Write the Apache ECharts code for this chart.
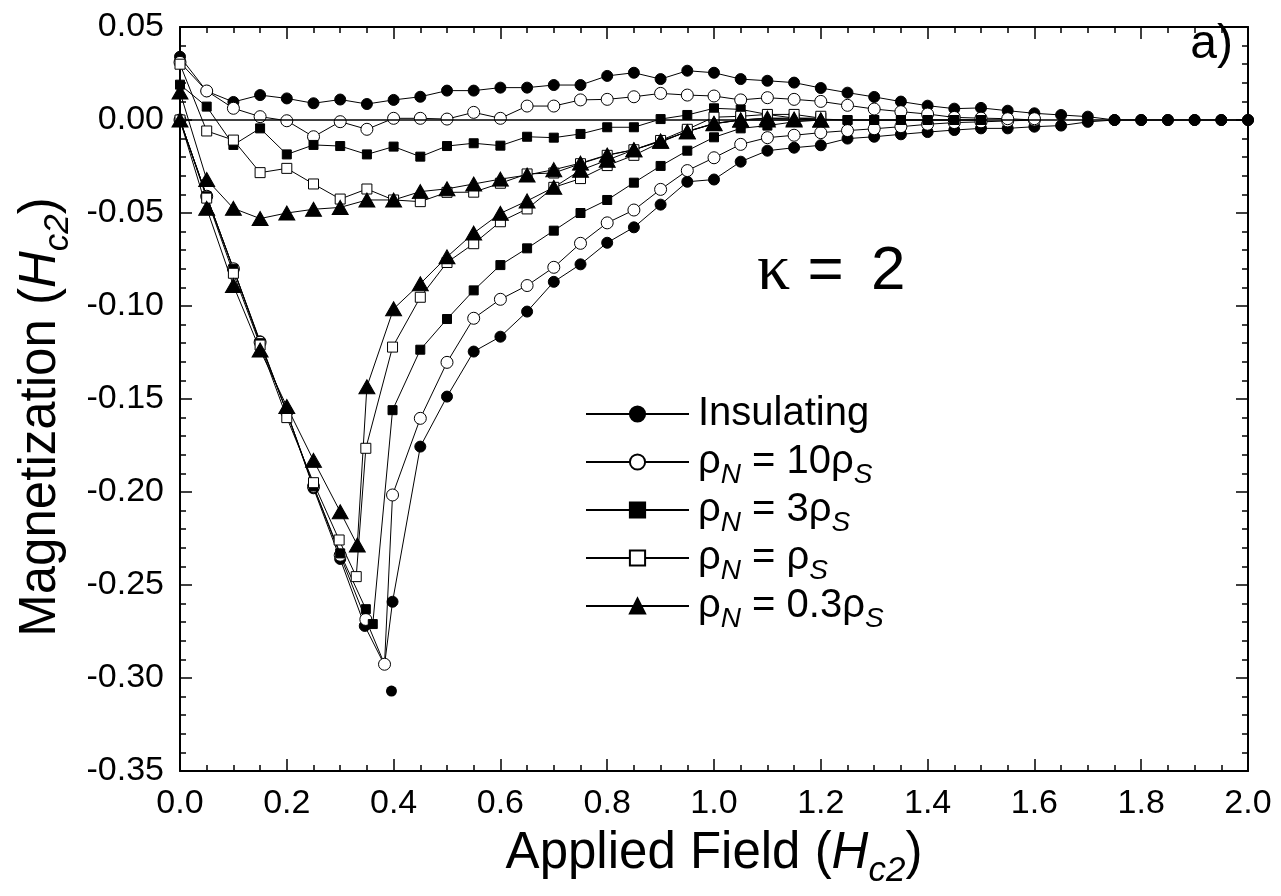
<!DOCTYPE html>
<html>
<head>
<meta charset="utf-8">
<script src="https://cdn.jsdelivr.net/npm/echarts@6/dist/echarts.min.js"></script>
<style>
  html, body { margin: 0; padding: 0; background: #ffffff; }
  #chart { width: 1281px; height: 896px; }
</style>
</head>
<body>
<div id="chart"></div>
<script>
// Magnetization loops M(H) for kappa = 2; field and magnetization in units of Hc2.
// Every curve is stored as the branch taken while the field rises (from 0),
// followed by the branch taken while the field falls back to 0.

const FONT = '"Liberation Sans", Arial, Helvetica, sans-serif';

const xRange = [0, 2.0];
const xStep = 0.2;
const yRange = [-0.35, 0.05];
const yStep = 0.05;

const seriesNames = ['Insulating', 'rho10', 'rho3', 'rho1', 'rho03'];
// coefficient printed before rho_S in the legend ('' means plain rho_S)
const rhoRatio = { rho10: '10', rho3: '3', rho1: '', rho03: '0.3' };

// ---- Insulating boundary (filled circles)
const insulatingUp = [
  [0, 0], [0.05, -0.041], [0.1, -0.080], [0.15, -0.119], [0.2, -0.157], [0.25, -0.198],
  [0.3, -0.236], [0.346, -0.272], [0.383, -0.293], [0.398, -0.259], [0.45, -0.1756],
  [0.5, -0.1487], [0.55, -0.1245], [0.6, -0.1165], [0.65, -0.103], [0.7, -0.087],
  [0.75, -0.0776], [0.8, -0.066], [0.85, -0.0577], [0.9, -0.0455], [0.95, -0.0332],
  [1.0, -0.032], [1.05, -0.0224], [1.1, -0.0165], [1.15, -0.0149], [1.2, -0.0136],
  [1.25, -0.010], [1.3, -0.009], [1.35, -0.0077], [1.4, -0.0065], [1.45, -0.0054],
  [1.5, -0.0045], [1.55, -0.0045], [1.6, -0.0036], [1.65, -0.003], [1.7, -0.001],
  [1.75, 0], [1.8, 0], [1.85, 0], [1.9, 0], [1.95, 0], [2.0, 0]
];
// index in insulatingUp of a vertex the line passes through without a marker
const insulatingBareVertex = 8;
const insulatingDown = [
  [2.0, 0], [1.95, 0], [1.9, 0], [1.85, 0], [1.8, 0], [1.75, 0], [1.7, 0.0018],
  [1.65, 0.0027], [1.6, 0.0036], [1.55, 0.005], [1.5, 0.0065], [1.45, 0.0061],
  [1.4, 0.0077], [1.35, 0.0099], [1.3, 0.0124], [1.25, 0.0147], [1.2, 0.0172],
  [1.15, 0.0201], [1.1, 0.0211], [1.05, 0.022], [1.0, 0.0254], [0.95, 0.0265],
  [0.9, 0.022], [0.85, 0.0254], [0.8, 0.0237], [0.75, 0.0188], [0.7, 0.0188],
  [0.65, 0.0174], [0.6, 0.0174], [0.55, 0.0158], [0.5, 0.0158], [0.45, 0.0125],
  [0.4, 0.0108], [0.35, 0.0086], [0.3, 0.011], [0.25, 0.009], [0.2, 0.0116],
  [0.15, 0.0134], [0.1, 0.0097], [0.05, 0.0155], [0, 0.034]
];
// lone point at the bottom of the insulating loop
const insulatingLone = [[0.396, -0.307]];

// ---- rho_N = 10 rho_S (open circles)
const rho10Up = [
  [0, 0], [0.05, -0.041], [0.1, -0.080], [0.15, -0.1195], [0.2, -0.157], [0.25, -0.197],
  [0.3, -0.234], [0.348, -0.2685], [0.383, -0.2926], [0.398, -0.2016], [0.45, -0.1604],
  [0.5, -0.1303], [0.55, -0.1066], [0.6, -0.0964], [0.65, -0.089], [0.7, -0.0792],
  [0.75, -0.0663], [0.8, -0.0553], [0.85, -0.0484], [0.9, -0.0373], [0.95, -0.0272],
  [1.0, -0.0203], [1.05, -0.0131], [1.1, -0.0095], [1.15, -0.0082], [1.2, -0.0068],
  [1.25, -0.0057], [1.3, -0.0047], [1.35, -0.0036], [1.4, -0.0023], [1.45, -0.0014],
  [1.5, -0.001], [1.55, -0.0005], [1.6, 0]
];
const rho10Down = [
  [1.6, 0.0007], [1.55, 0.0007], [1.5, 0.001], [1.45, 0.0014], [1.4, 0.0032],
  [1.35, 0.0045], [1.3, 0.0059], [1.25, 0.0079], [1.2, 0.010], [1.15, 0.0111],
  [1.1, 0.012], [1.05, 0.0108], [1.0, 0.0129], [0.95, 0.0134], [0.9, 0.0143],
  [0.85, 0.0125], [0.8, 0.0111], [0.75, 0.0108], [0.7, 0.0075], [0.65, 0.0075],
  [0.6, 0.0009], [0.55, 0.0041], [0.5, 0.0005], [0.45, 0.0009], [0.4, 0.0009],
  [0.35, -0.005], [0.3, -0.0009], [0.25, -0.009], [0.2, -0.0004], [0.15, 0.0018],
  [0.1, 0.0063], [0.05, 0.0156], [0, 0.031]
];

// ---- rho_N = 3 rho_S (filled squares)
const rho3Up = [
  [0, 0], [0.05, -0.041], [0.1, -0.080], [0.15, -0.120], [0.2, -0.157], [0.25, -0.197],
  [0.3, -0.233], [0.348, -0.263], [0.361, -0.271], [0.398, -0.156], [0.45, -0.1235],
  [0.5, -0.107], [0.55, -0.0916], [0.6, -0.078], [0.65, -0.069], [0.7, -0.0595],
  [0.75, -0.050], [0.8, -0.043], [0.85, -0.0337], [0.9, -0.0247], [0.95, -0.0165],
  [1.0, -0.0093], [1.05, -0.0045], [1.1, -0.003], [1.15, -0.001], [1.2, 0],
  [1.25, 0], [1.3, 0], [1.35, 0], [1.4, 0], [1.45, 0], [1.5, 0]
];
const rho3Down = [
  [1.5, 0], [1.45, 0], [1.4, 0], [1.35, 0], [1.3, 0], [1.25, 0], [1.2, 0.0005],
  [1.15, 0.001], [1.1, 0.003], [1.05, 0.0057], [1.0, 0.0063], [0.95, 0.0027],
  [0.9, 0.0005], [0.85, -0.0039], [0.8, -0.0039], [0.75, -0.0075], [0.7, -0.0095],
  [0.65, -0.009], [0.6, -0.0138], [0.55, -0.0125], [0.5, -0.014], [0.45, -0.0197],
  [0.4, -0.0143], [0.35, -0.0185], [0.3, -0.014], [0.25, -0.0134], [0.2, -0.0185],
  [0.15, -0.0045], [0.1, -0.0134], [0.05, 0.0072], [0, 0.019]
];

// ---- rho_N = rho_S (open squares)
const rho1Up = [
  [0, 0], [0.05, -0.042], [0.1, -0.0824], [0.15, -0.121], [0.2, -0.160], [0.25, -0.195],
  [0.298, -0.2258], [0.33, -0.2455], [0.348, -0.1765], [0.398, -0.1221], [0.45, -0.0953],
  [0.5, -0.0766], [0.55, -0.0665], [0.6, -0.0547], [0.65, -0.0478], [0.7, -0.0362],
  [0.75, -0.0315], [0.8, -0.0245], [0.85, -0.019], [0.9, -0.012], [0.95, -0.006],
  [1.0, -0.002], [1.05, 0], [1.1, 0.001], [1.15, 0.001], [1.2, 0.001]
];
const rho1Down = [
  [1.2, 0.002], [1.15, 0.003], [1.1, 0.003], [1.05, 0.002], [1.0, 0.0015],
  [0.95, -0.005], [0.9, -0.011], [0.85, -0.016], [0.8, -0.019], [0.75, -0.0235],
  [0.7, -0.0285], [0.65, -0.029], [0.6, -0.034], [0.55, -0.0388], [0.5, -0.0389],
  [0.45, -0.0439], [0.4, -0.043], [0.35, -0.0371], [0.3, -0.0425], [0.25, -0.0344],
  [0.2, -0.026], [0.15, -0.0283], [0.1, -0.0108], [0.05, -0.0059], [0, 0.030]
];

// ---- rho_N = 0.3 rho_S (filled triangles)
const rho03Up = [
  [0, 0], [0.05, -0.0475], [0.1, -0.089], [0.15, -0.1237], [0.2, -0.154], [0.25, -0.183],
  [0.3, -0.2106], [0.332, -0.2285], [0.35, -0.1434], [0.4, -0.1015], [0.45, -0.088],
  [0.5, -0.0736], [0.55, -0.0608], [0.6, -0.0502], [0.65, -0.0435], [0.7, -0.0362],
  [0.75, -0.027], [0.8, -0.0216], [0.85, -0.016], [0.9, -0.0115], [0.95, -0.0063],
  [1.0, -0.002], [1.05, 0], [1.1, 0], [1.15, 0], [1.2, 0]
];
const rho03Down = [
  [1.2, 0], [1.15, 0.0005], [1.1, 0.001], [1.05, 0], [1.0, -0.0018], [0.95, -0.0063],
  [0.9, -0.0113], [0.85, -0.016], [0.8, -0.0188], [0.75, -0.0232], [0.7, -0.0267],
  [0.65, -0.0296], [0.6, -0.0318], [0.55, -0.0344], [0.5, -0.037], [0.45, -0.0385],
  [0.4, -0.043], [0.35, -0.043], [0.3, -0.047], [0.25, -0.048], [0.2, -0.050],
  [0.15, -0.053], [0.1, -0.0475], [0.05, -0.032], [0, 0.015]
];

const insulatingLoop = insulatingUp
  .map((p, i) => (i === insulatingBareVertex ? { value: p, symbol: 'none' } : p))
  .concat(insulatingDown);

const markerStyles = {
  Insulating: { symbol: 'circle', size: 11, fill: '#000000' },
  rho10: { symbol: 'circle', size: 12, fill: '#ffffff' },
  rho3: { symbol: 'rect', size: 9, fill: '#000000' },
  rho1: { symbol: 'rect', size: 10, fill: '#ffffff' },
  rho03: { symbol: 'triangle', size: [16, 14], fill: '#000000' }
};

const loops = {
  Insulating: insulatingLoop,
  rho10: rho10Up.concat(rho10Down),
  rho3: rho3Up.concat(rho3Down),
  rho1: rho1Up.concat(rho1Down),
  rho03: rho03Up.concat(rho03Down)
};

function legendLabel(name) {
  if (name === 'Insulating') return '{t|Insulating}{s| }';
  return '{t|ρ}{s|N}{t| = ' + rhoRatio[name] + 'ρ}{s|S}';
}

const chart = echarts.init(document.getElementById('chart'), null, { renderer: 'canvas' });

const series = [];
seriesNames.forEach((name) => {
  const m = markerStyles[name];
  series.push({
    name: name,
    type: 'line',
    data: loops[name],
    symbol: m.symbol,
    symbolSize: m.size,
    showSymbol: true,
    showAllSymbol: true,
    clip: false,
    lineStyle: { color: '#000000', width: 1 },
    itemStyle: { color: m.fill, borderColor: '#000000', borderWidth: 1 },
    emphasis: { disabled: true },
    markLine: name === 'Insulating' ? {
      silent: true,
      symbol: 'none',
      label: { show: false },
      lineStyle: { color: '#000000', width: 1.5, type: 'solid' },
      data: [{ yAxis: 0 }]
    } : undefined
  });
  if (name === 'Insulating') {
    series.push({
      name: name,
      type: 'scatter',
      data: insulatingLone,
      symbol: 'circle',
      symbolSize: m.size,
      itemStyle: { color: '#000000', opacity: 1 },
      emphasis: { disabled: true }
    });
  }
});

const tickStyle = { show: true, inside: true, length: 12, lineStyle: { color: '#000', width: 1.5 } };
const minorStyle = { show: true, length: 6, lineStyle: { color: '#000', width: 1.5 } };
const frameLine = { show: true, onZero: false, lineStyle: { color: '#000', width: 2 } };

const TICK_FONT = 34;
const TITLE_FONT = 51;
function titleRich() {
  return {
    n: { fontFamily: FONT, fontSize: TITLE_FONT, lineHeight: 54, color: '#000' },
    i: { fontFamily: FONT, fontSize: TITLE_FONT, fontStyle: 'italic', lineHeight: 54, color: '#000' },
    s: { fontFamily: FONT, fontSize: 35, fontStyle: 'italic', lineHeight: 30,
         padding: [27, 0, 0, 0], verticalAlign: 'top', color: '#000' }
  };
}

const option = {
  animation: false,
  backgroundColor: '#ffffff',
  textStyle: { fontFamily: FONT },
  grid: { left: 180, right: 33, top: 27, bottom: 125, containLabel: false },
  legend: {
    data: seriesNames,
    orient: 'vertical',
    left: 585,
    top: 393,
    padding: 0,
    itemWidth: 103,
    itemHeight: 19,
    itemGap: 0,
    selectedMode: false,
    formatter: legendLabel,
    textStyle: {
      fontFamily: FONT,
      color: '#000',
      padding: [0, 0, 0, 4],
      rich: {
        t: { fontFamily: FONT, fontSize: 40, lineHeight: 42, color: '#000' },
        s: { fontFamily: FONT, fontSize: 28, fontStyle: 'italic', lineHeight: 24,
             padding: [20, 0, 0, 0], verticalAlign: 'top', color: '#000' }
      }
    }
  },
  xAxis: [{
    type: 'value',
    min: xRange[0], max: xRange[1], interval: xStep,
    position: 'bottom',
    axisLine: frameLine,
    axisTick: tickStyle,
    minorTick: Object.assign({ splitNumber: 4 }, minorStyle),
    splitLine: { show: false },
    axisLabel: {
      show: true, color: '#000', fontSize: TICK_FONT, fontFamily: FONT, margin: 16,
      showMinLabel: true, showMaxLabel: true,
      formatter: (v) => v.toFixed(1)
    },
    name: '{n|Applied Field (}{i|H}{s|c2}{n|)}',
    nameLocation: 'middle',
    nameGap: 56,
    nameTextStyle: { rich: titleRich() }
  }, {
    type: 'value',
    min: xRange[0], max: xRange[1], interval: xStep,
    position: 'top',
    axisLine: frameLine,
    axisTick: tickStyle,
    minorTick: Object.assign({ splitNumber: 4 }, minorStyle),
    splitLine: { show: false },
    axisLabel: { show: false }
  }],
  yAxis: [{
    type: 'value',
    min: yRange[0], max: yRange[1], interval: yStep,
    position: 'left',
    axisLine: frameLine,
    axisTick: tickStyle,
    minorTick: Object.assign({ splitNumber: 5 }, minorStyle),
    splitLine: { show: false },
    axisLabel: {
      show: true, color: '#000', fontSize: TICK_FONT, fontFamily: FONT, margin: 16,
      showMinLabel: true, showMaxLabel: true,
      formatter: (v) => v.toFixed(2)
    },
    name: '{n|Magnetization (}{i|H}{s|c2}{n|)}',
    nameLocation: 'middle',
    nameGap: 111,
    nameTextStyle: { rich: titleRich(), padding: [0, 36, 0, 0] }
  }, {
    type: 'value',
    min: yRange[0], max: yRange[1], interval: yStep,
    position: 'right',
    axisLine: frameLine,
    axisTick: tickStyle,
    minorTick: Object.assign({ splitNumber: 5 }, minorStyle),
    splitLine: { show: false },
    axisLabel: { show: false }
  }],
  graphic: [{
    type: 'text',
    x: 757,
    y: 272,
    style: {
      text: '{k|κ}{e| = }{d|2}',
      verticalAlign: 'middle',
      rich: {
        k: { fontFamily: '"Liberation Serif", "Times New Roman", serif', fontSize: 66, fill: '#000' },
        e: { fontFamily: FONT, fontSize: 62, fill: '#000' },
        d: { fontFamily: FONT, fontSize: 62, fill: '#000', padding: [0, 0, 0, 10] }
      }
    }
  }, {
    type: 'text',
    x: 1233,
    y: 45,
    style: { text: 'a)', fontFamily: FONT, fontSize: 48, fill: '#000', align: 'right', verticalAlign: 'middle' }
  }],
  series: series
};

chart.setOption(option);
</script>
</body>
</html>
